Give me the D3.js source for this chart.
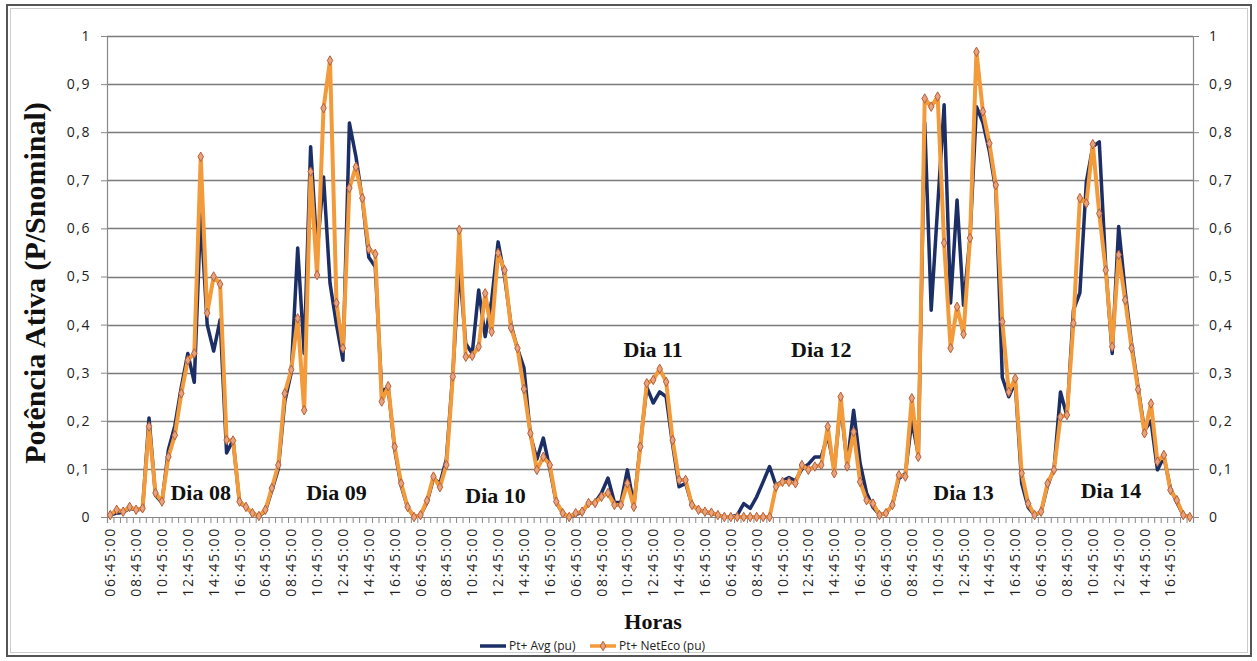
<!DOCTYPE html>
<html>
<head>
<meta charset="utf-8">
<script src="https://cdn.jsdelivr.net/npm/d3@7"></script>
<style>
  body { margin: 0; background: #fff; }
  svg { display: block; }
</style>
</head>
<body>
<svg id="chart" width="1257" height="661"></svg>
<script>
// dias e horários (a cada 30 min, 06:45 -> 18:15)
const days = ["Dia 08", "Dia 09", "Dia 10", "Dia 11", "Dia 12", "Dia 13", "Dia 14"];
const times = ["06:45:00", "07:15:00", "07:45:00", "08:15:00", "08:45:00", "09:15:00",
               "09:45:00", "10:15:00", "10:45:00", "11:15:00", "11:45:00", "12:15:00",
               "12:45:00", "13:15:00", "13:45:00", "14:15:00", "14:45:00", "15:15:00",
               "15:45:00", "16:15:00", "16:45:00", "17:15:00", "17:45:00", "18:15:00"];

// onde fica o rótulo de cada dia: [índice da categoria, valor pu]
const dayLabelAt = [[14, 0.035], [35, 0.035], [59.6, 0.029], [84, 0.333], [110, 0.333], [132, 0.035], [154.8, 0.04]];

const yTicks = [0, 0.1, 0.2, 0.3, 0.4, 0.5, 0.6, 0.7, 0.8, 0.9, 1];

// Pt+ Avg (pu)
const avgPu = [
  0.004, 0.008, 0.010, 0.018, 0.015, 0.016, 0.206, 0.045, 0.030, 0.140, 0.190, 0.270, 0.340, 0.280, 0.630, 0.400, 0.345, 0.410, 0.133, 0.160, 0.030, 0.020, 0.008, 0.002, // 08
  0.012, 0.055, 0.100, 0.240, 0.300, 0.559, 0.340, 0.770, 0.550, 0.707, 0.486, 0.400, 0.326, 0.819, 0.750, 0.660, 0.540, 0.520, 0.260, 0.270, 0.140, 0.065, 0.020, 0.000, // 09
  0.004, 0.030, 0.080, 0.070, 0.120, 0.300, 0.520, 0.360, 0.340, 0.472, 0.375, 0.450, 0.572, 0.500, 0.400, 0.350, 0.310, 0.170, 0.120, 0.164, 0.100, 0.030, 0.008, 0.000, // 10
  0.005, 0.010, 0.028, 0.030, 0.050, 0.081, 0.030, 0.030, 0.098, 0.025, 0.150, 0.270, 0.237, 0.260, 0.250, 0.150, 0.063, 0.070, 0.025, 0.015, 0.010, 0.008, 0.003, 0.000, // 11
  0.000, 0.004, 0.028, 0.018, 0.042, 0.073, 0.105, 0.065, 0.075, 0.082, 0.075, 0.100, 0.110, 0.125, 0.125, 0.170, 0.100, 0.235, 0.110, 0.222, 0.112, 0.050, 0.020, 0.005, // 12
  0.008, 0.025, 0.080, 0.090, 0.200, 0.130, 0.820, 0.430, 0.645, 0.857, 0.445, 0.659, 0.440, 0.580, 0.853, 0.820, 0.760, 0.680, 0.290, 0.250, 0.280, 0.070, 0.020, 0.004, // 13
  0.010, 0.065, 0.100, 0.260, 0.210, 0.430, 0.466, 0.697, 0.770, 0.780, 0.520, 0.340, 0.604, 0.470, 0.360, 0.270, 0.180, 0.200, 0.098, 0.125, 0.060, 0.030, 0.004, 0.000  // 14
];

// Pt+ NetEco (pu)
const netEcoPu = [
  0.004, 0.015, 0.011, 0.021, 0.015, 0.018, 0.188, 0.050, 0.032, 0.125, 0.170, 0.257, 0.326, 0.340, 0.749, 0.424, 0.500, 0.484, 0.160, 0.159, 0.032, 0.021, 0.008, 0.002, // 08
  0.015, 0.060, 0.108, 0.257, 0.306, 0.413, 0.222, 0.718, 0.503, 0.850, 0.949, 0.445, 0.351, 0.684, 0.728, 0.663, 0.557, 0.547, 0.240, 0.272, 0.146, 0.070, 0.021, 0.000, // 09
  0.004, 0.034, 0.084, 0.062, 0.108, 0.292, 0.597, 0.333, 0.335, 0.354, 0.465, 0.385, 0.549, 0.513, 0.393, 0.351, 0.266, 0.174, 0.098, 0.125, 0.108, 0.032, 0.008, 0.000, // 10
  0.008, 0.011, 0.029, 0.029, 0.042, 0.050, 0.025, 0.025, 0.070, 0.021, 0.146, 0.278, 0.285, 0.308, 0.281, 0.160, 0.077, 0.077, 0.025, 0.015, 0.011, 0.009, 0.004, 0.000, // 11
  0.000, 0.000, 0.000, 0.000, 0.000, 0.000, 0.000, 0.063, 0.073, 0.073, 0.070, 0.108, 0.098, 0.105, 0.108, 0.188, 0.091, 0.250, 0.105, 0.177, 0.073, 0.035, 0.028, 0.004, // 12
  0.008, 0.025, 0.087, 0.084, 0.247, 0.125, 0.870, 0.853, 0.874, 0.570, 0.351, 0.437, 0.380, 0.580, 0.967, 0.843, 0.777, 0.690, 0.406, 0.260, 0.288, 0.091, 0.028, 0.004, // 13
  0.011, 0.070, 0.098, 0.208, 0.212, 0.403, 0.663, 0.652, 0.775, 0.631, 0.513, 0.354, 0.545, 0.451, 0.351, 0.265, 0.174, 0.236, 0.115, 0.129, 0.056, 0.035, 0.004, 0.000  // 14
];

const blue = "#1b2e66";
const orange = "#f39a3a";

const svg = d3.select("#chart");
const plotLeft = 107, plotRight = 1193, plotTop = 36, plotBottom = 517;

// categorias = dia x horário
const cats = [];
days.forEach((d, di) => times.forEach((t, ti) => cats.push({ day: d, time: t, i: di * times.length + ti })));

const x = d3.scaleBand().domain(cats.map(c => c.i)).range([plotLeft, plotRight]).padding(0);
const xPos = i => x(i) + x.bandwidth() / 2;
const xLin = d3.scaleLinear().domain([0, cats.length]).range([plotLeft, plotRight]); // fronteiras das categorias
const y = d3.scaleLinear().domain([0, 1]).range([plotBottom, plotTop]);
const fmt = d => d3.format(".1~f")(d).replace(".", ",");

// moldura
svg.append("rect").attr("x", 7).attr("y", 5).attr("width", 1244).attr("height", 651)
  .attr("fill", "none").attr("stroke", "#555").attr("stroke-width", 2);
svg.append("rect").attr("x", 10.5).attr("y", 8.5).attr("width", 1237).attr("height", 644)
  .attr("fill", "none").attr("stroke", "#ccc").attr("stroke-width", 1);

// grade
svg.append("g").selectAll("line").data(yTicks.slice(1)).enter().append("line")
  .attr("x1", plotLeft).attr("x2", plotRight)
  .attr("y1", d => Math.round(y(d)) + 0.5).attr("y2", d => Math.round(y(d)) + 0.5)
  .attr("stroke", "#7a7a7a").attr("stroke-width", 1.3);

// eixos y
const yl = svg.append("g").attr("transform", `translate(${plotLeft},0)`)
  .call(d3.axisLeft(y).tickValues(yTicks).tickFormat(fmt).tickSize(6).tickPadding(10));
const yr = svg.append("g").attr("transform", `translate(${plotRight},0)`)
  .call(d3.axisRight(y).tickValues(yTicks).tickFormat(fmt).tickSize(6).tickPadding(10));
[yl, yr].forEach(g => {
  g.select(".domain").attr("stroke", "#888").attr("stroke-width", 1.2);
  g.selectAll(".tick line").attr("stroke", "#888");
  g.selectAll("text").attr("font-family", "Open Sans").attr("font-size", 14)
    .attr("letter-spacing", 1.5).attr("fill", "#222");
});

// eixo x: marcas em cada categoria
const xa = svg.append("g").attr("transform", `translate(0,${plotBottom})`)
  .call(d3.axisBottom(xLin).tickValues(d3.range(0, cats.length + 1)).tickFormat("").tickSize(6));
xa.select(".domain").attr("stroke", "#888").attr("stroke-width", 1.2);
xa.selectAll(".tick line").attr("stroke", "#888");

// rótulos x a cada 2 horas
svg.append("g").selectAll("text").data(cats.filter(c => c.i % 4 === 0)).enter().append("text")
  .attr("transform", c => `translate(${xPos(c.i) + 5},${plotBottom + 10}) rotate(-90)`)
  .attr("text-anchor", "end")
  .attr("font-family", "Open Sans").attr("font-size", 14).attr("letter-spacing", 1.8)
  .attr("fill", "#222")
  .text(c => c.time);

// séries
const line = d3.line().x((d, i) => xPos(i)).y(d => y(d));
svg.append("path").datum(avgPu).attr("d", line)
  .attr("fill", "none").attr("stroke", blue).attr("stroke-width", 3.5).attr("stroke-linejoin", "round");
svg.append("path").datum(netEcoPu).attr("d", line)
  .attr("fill", "none").attr("stroke", orange).attr("stroke-width", 4).attr("stroke-linejoin", "round");

const diamond = d3.symbol().type(d3.symbolDiamond).size(26);
svg.append("g").selectAll("path").data(netEcoPu).enter().append("path")
  .attr("d", diamond)
  .attr("transform", (d, i) => `translate(${xPos(i)},${y(d)})`)
  .attr("fill", "#e9a27a").attr("stroke", "#b5603a").attr("stroke-width", 1);

// rótulos dos dias
svg.append("g").selectAll("text").data(days).enter().append("text")
  .attr("x", (d, i) => xLin(dayLabelAt[i][0] + 0.5))
  .attr("y", (d, i) => y(dayLabelAt[i][1]))
  .attr("text-anchor", "middle")
  .attr("font-family", "Liberation Serif").attr("font-weight", "bold").attr("font-size", 22)
  .attr("fill", "#111")
  .text(d => d);

// títulos
svg.append("text")
  .attr("transform", "translate(45,283) rotate(-90)")
  .attr("text-anchor", "middle")
  .attr("font-family", "Liberation Serif").attr("font-weight", "bold").attr("font-size", 30)
  .attr("fill", "#111")
  .text("Potência Ativa (P/Snominal)");

svg.append("text")
  .attr("x", (plotLeft + plotRight) / 2 + 3).attr("y", 629)
  .attr("text-anchor", "middle")
  .attr("font-family", "Liberation Serif").attr("font-weight", "bold").attr("font-size", 22)
  .attr("fill", "#111")
  .text("Horas");

// legenda
const legend = [
  { name: "Pt+ Avg (pu)", color: blue, x: 480, marker: false },
  { name: "Pt+ NetEco (pu)", color: orange, x: 590, marker: true }
];
const lg = svg.append("g").attr("transform", "translate(0,646)");
legend.forEach(l => {
  lg.append("line").attr("x1", l.x).attr("x2", l.x + 26).attr("y1", 0).attr("y2", 0)
    .attr("stroke", l.color).attr("stroke-width", 3.5);
  if (l.marker) {
    lg.append("path").attr("d", diamond).attr("transform", `translate(${l.x + 13},0)`)
      .attr("fill", "#e9a27a").attr("stroke", "#b5603a");
  }
  lg.append("text").attr("x", l.x + 29).attr("y", 0).attr("dy", "0.35em")
    .attr("font-family", "Open Sans").attr("font-size", 12).attr("fill", "#222")
    .text(l.name);
});
</script>
</body>
</html>
